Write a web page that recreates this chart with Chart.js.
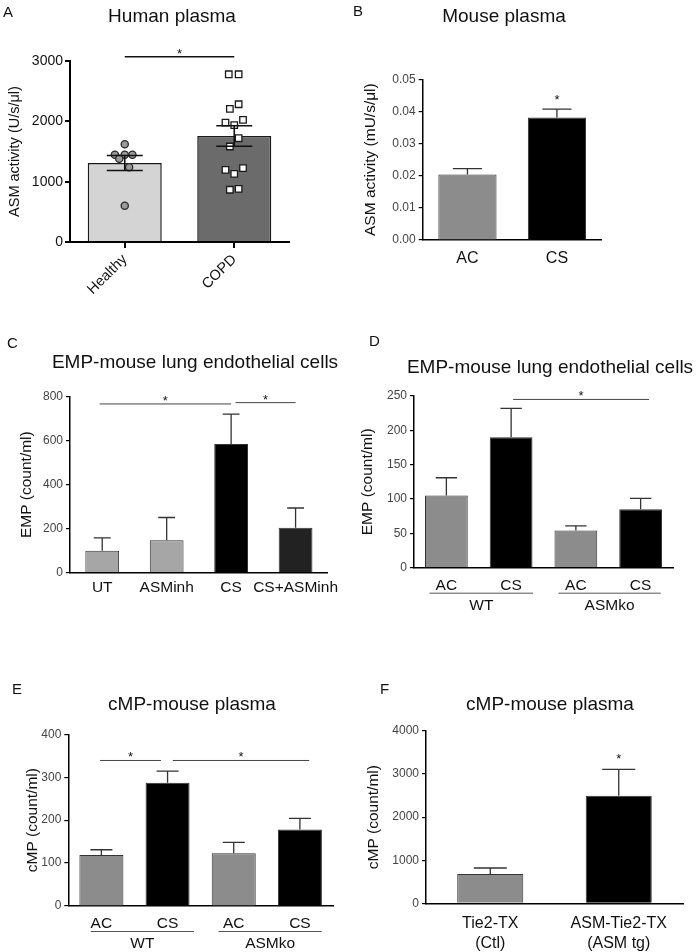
<!DOCTYPE html>
<html>
<head>
<meta charset="utf-8">
<script src="https://cdn.jsdelivr.net/npm/chart.js@4.4.1/dist/chart.umd.min.js"></script>
<style>
  body { margin: 0; background: #fff; width: 697px; height: 952px; position: relative; overflow: hidden;
         font-family: "Liberation Sans", Arial, sans-serif; }
  canvas { position: absolute; }
  .lbl { position: absolute; font-size: 15px; line-height: 15px; color: #111; }
  .ttl { position: absolute; font-size: 19px; line-height: 19px; color: #111; transform: translateX(-50%); white-space: nowrap; }
</style>
</head>
<body>
<canvas id="cA" width="340" height="300" style="left:0;top:0"></canvas>
<canvas id="cB" width="357" height="290" style="left:340px;top:0"></canvas>
<canvas id="cC" width="345" height="330" style="left:0;top:300px"></canvas>
<canvas id="cD" width="357" height="330" style="left:340px;top:300px"></canvas>
<canvas id="cE" width="345" height="322" style="left:0;top:630px"></canvas>
<canvas id="cF" width="357" height="322" style="left:340px;top:630px"></canvas>

<div class="lbl" style="left:3px;top:4px">A</div>
<div class="ttl" style="left:172px;top:6px">Human plasma</div>
<div class="lbl" style="left:353px;top:3px">B</div>
<div class="ttl" style="left:504px;top:6px">Mouse plasma</div>
<div class="lbl" style="left:7px;top:335px">C</div>
<div class="ttl" style="left:195px;top:352px">EMP-mouse lung endothelial cells</div>
<div class="lbl" style="left:369px;top:333px">D</div>
<div class="ttl" style="left:550px;top:357px">EMP-mouse lung endothelial cells</div>
<div class="lbl" style="left:12px;top:681px">E</div>
<div class="ttl" style="left:192px;top:694px">cMP-mouse plasma</div>
<div class="lbl" style="left:380px;top:681px">F</div>
<div class="ttl" style="left:550px;top:694px">cMP-mouse plasma</div>

<script>
// ---- data ----
// A: human plasma ASM activity (U/s/ul), mean +- SEM and single values
const aLabels = ['Healthy', 'COPD'];
const aMeans = [1310, 1757];
const aSem = [124, 170];
const healthyVals = [1620, 1447, 1447, 1447, 1380, 1238, 601];
const healthyJitter = [0, -0.09, 0, 0.07, -0.05, 0.04, 0];
const copdVals = [2780, 2780, 2283, 2206, 1980, 2024, 1936, 1720, 1583, 1197, 1224, 1130, 866, 882];
const copdJitter = [-0.05, 0.04, 0.04, -0.04, -0.08, 0.08, 0, 0.04, -0.04, -0.08, 0.08, 0, -0.04, 0.04];
const aSig = [[0, 1, 3070]];

// B: mouse plasma ASM activity (mU/s/ul)
const bLabels = ['AC', 'CS'];
const bMeans = [0.0204, 0.0381];
const bSem = [0.0018, 0.0026];
const bStars = [[1, 0.0446]];

// C: EMP from mouse lung endothelial cells (count/ml)
const cLabels = ['UT', 'ASMinh', 'CS', 'CS+ASMinh'];
const cMeans = [100, 148, 585, 204];
const cSem = [58, 103, 136, 90];
const cSig = [[-0.04, 2, 767], [2.07, 3, 773]];

// D: EMP, WT vs ASMko (count/ml)
const dLabels = ['AC', 'CS', 'AC', 'CS'];
const dMeans = [105, 190, 54, 85];
const dSem = [26, 42, 7, 16];
const dSig = [[1.03, 3.13, 245]];
const dGroups = [[-0.26, 1.34, 'WT'], [1.73, 3.31, 'ASMko']];

// E: cMP mouse plasma, WT vs ASMko (count/ml)
const eLabels = ['AC', 'CS', 'AC', 'CS'];
const eMeans = [119, 287, 123, 178];
const eSem = [12, 27, 25, 26];
const eSig = [[-0.02, 0.9, 339], [1.08, 3.14, 339]];
const eGroups = [[-0.16, 1.4, 'WT'], [1.77, 3.33, 'ASMko']];

// F: cMP mouse plasma, Tie2-TX vs ASM-Tie2-TX (count/ml)
const fLabels = [['Tie2-TX', '(Ctl)'], ['ASM-Tie2-TX', '(ASM tg)']];
const fMeans = [681, 2499];
const fSem = [139, 611];
const fStars = [[1, 3420]];

const FONT = '"Liberation Sans", Arial, sans-serif';
Chart.defaults.font.family = FONT;
Chart.defaults.color = '#111';
Chart.defaults.animation = false;
Chart.defaults.plugins.legend.display = false;
Chart.defaults.plugins.tooltip.enabled = false;

// error bars, significance lines, stars and group underlines
const extras = {
  id: 'extras',
  afterDatasetsDraw(chart, args, o) {
    const ctx = chart.ctx, xs = chart.scales.x, ys = chart.scales.y;
    ctx.save();
    if (o.means) {
      const bars = chart.getDatasetMeta(0).data;
      ctx.strokeStyle = o.errColor;
      ctx.lineWidth = o.errWidth;
      o.means.forEach((m, i) => {
        const x = xs.getPixelForValue(i);
        const half = o.capHalf || bars[i].width / 4;
        const top = ys.getPixelForValue(m + o.sem[i]);
        const bot = ys.getPixelForValue(o.both ? m - o.sem[i] : m);
        ctx.beginPath();
        ctx.moveTo(x, bot); ctx.lineTo(x, top);
        ctx.moveTo(x - half, top); ctx.lineTo(x + half, top);
        if (o.both) { ctx.moveTo(x - half, bot); ctx.lineTo(x + half, bot); }
        ctx.stroke();
      });
    }
    ctx.font = '13px ' + FONT;
    ctx.textAlign = 'center';
    ctx.textBaseline = 'alphabetic';
    ctx.fillStyle = '#111';
    (o.sig || []).forEach(s => {
      const x1 = xs.getPixelForValue(s[0]), x2 = xs.getPixelForValue(s[1]);
      const y = ys.getPixelForValue(s[2]);
      ctx.strokeStyle = o.sigColor;
      ctx.lineWidth = o.sigWidth;
      ctx.beginPath(); ctx.moveTo(x1, y); ctx.lineTo(x2, y); ctx.stroke();
      ctx.fillText('*', (x1 + x2) / 2, y + 1);
    });
    (o.stars || []).forEach(s => {
      ctx.fillText('*', xs.getPixelForValue(s[0]), ys.getPixelForValue(s[1]) + 7);
    });
    if (o.groups) {
      ctx.font = '15.5px ' + FONT;
      ctx.textBaseline = 'middle';
      o.groups.forEach(g => {
        const x1 = xs.getPixelForValue(g[0]), x2 = xs.getPixelForValue(g[1]);
        const y = xs.top + o.groupLine;
        ctx.strokeStyle = '#555';
        ctx.lineWidth = 1;
        ctx.beginPath(); ctx.moveTo(x1, y); ctx.lineTo(x2, y); ctx.stroke();
        ctx.fillText(g[2], (x1 + x2) / 2, xs.top + o.groupText);
      });
    }
    ctx.restore();
  }
};

// common builder for the grey/black bar panels (B-F)
function barPanel(id, p) {
  return new Chart(document.getElementById(id), {
    type: 'bar',
    data: {
      labels: p.labels,
      datasets: [{
        data: p.means,
        backgroundColor: p.colors,
        borderColor: '#333',
        borderWidth: 1,
        barPercentage: p.barPct,
        categoryPercentage: 1
      }]
    },
    options: {
      responsive: false,
      layout: { padding: { left: p.padL, top: p.padT, right: p.padR, bottom: 0 } },
      scales: {
        x: {
          afterFit: s => { s.height = p.xH; },
          grid: { display: false, drawTicks: false },
          border: { display: true, color: '#000', width: 1.5 },
          ticks: { font: { size: p.xFont || 15.5 }, color: '#111', padding: p.xPad, maxRotation: 0, autoSkip: false }
        },
        y: {
          min: 0, max: p.max,
          afterFit: s => { s.width = p.yW; },
          grid: { drawOnChartArea: false, tickLength: 4, color: '#000', lineWidth: 1.2 },
          border: { color: '#000', width: 1.5 },
          ticks: { stepSize: p.step, font: { size: 12 }, color: '#444', padding: 3, callback: p.fmt || (v => v) },
          title: { display: true, text: p.yTitle, font: { size: 15.5 }, color: '#111', padding: 0 }
        }
      },
      plugins: {
        extras: {
          means: p.means, sem: p.sem, errColor: '#333', errWidth: 1.3,
          sig: p.sig, sigColor: '#444', sigWidth: 1, stars: p.stars,
          groups: p.groups, groupLine: 25.5, groupText: 38
        }
      }
    },
    plugins: [extras]
  });
}

// A: bars with single values on top (points drawn above the bars)
new Chart(document.getElementById('cA'), {
  type: 'bar',
  data: {
    labels: aLabels,
    datasets: [{
      data: aMeans,
      backgroundColor: ['#d4d4d4', '#6b6b6b'],
      borderColor: '#1a1a1a',
      borderWidth: 1.5,
      barPercentage: 0.676,
      categoryPercentage: 1,
      grouped: false,
      order: 3
    }, {
      type: 'scatter',
      xAxisID: 'xs',
      order: 1,
      data: healthyVals.map((v, i) => ({ x: 0 + healthyJitter[i], y: v })),
      pointStyle: 'circle',
      pointRadius: 3.6,
      backgroundColor: '#9a9a9a',
      borderColor: '#2a2a2a',
      borderWidth: 1.3
    }, {
      type: 'scatter',
      xAxisID: 'xs',
      order: 1,
      data: copdVals.map((v, i) => ({ x: 1 + copdJitter[i], y: v })),
      pointStyle: 'rect',
      pointRadius: 4.6,
      backgroundColor: '#fff',
      borderColor: '#1a1a1a',
      borderWidth: 1.3
    }]
  },
  options: {
    responsive: false,
    layout: { padding: { left: 6.3, top: 61, right: 51, bottom: 0 } },
    scales: {
      x: {
        afterFit: s => { s.height = 58; },
        grid: { drawOnChartArea: false, drawTicks: true, tickLength: 6, offset: false, color: '#000', lineWidth: 2 },
        border: { color: '#000', width: 2 },
        ticks: { font: { size: 14.5 }, color: '#111', padding: 3, minRotation: 45, maxRotation: 45 }
      },
      xs: { type: 'linear', display: false, offset: false, grid: { offset: false }, min: -0.5, max: 1.5 },
      y: {
        min: 0, max: 3000,
        afterFit: s => { s.width = 63.7; },
        grid: { drawOnChartArea: false, tickLength: 5, color: '#000', lineWidth: 2 },
        border: { color: '#000', width: 2 },
        ticks: { stepSize: 1000, font: { size: 14 }, color: '#111', padding: 2, callback: v => v },
        title: { display: true, text: 'ASM activity (U/s/μl)', font: { size: 14.5 }, color: '#111', padding: 0 }
      }
    },
    plugins: {
      extras: {
        means: aMeans, sem: aSem, both: true, capHalf: 18, errColor: '#111', errWidth: 1.6,
        sig: aSig, sigColor: '#111', sigWidth: 1.5
      }
    }
  },
  plugins: [extras]
});

barPanel('cB', {
  labels: bLabels, means: bMeans, sem: bSem, stars: bStars,
  colors: ['#8c8c8c', '#000'], barPct: 0.65,
  max: 0.05, step: 0.01, fmt: v => v.toFixed(2),
  yTitle: 'ASM activity (mU/s/μl)', xFont: 16,
  padL: 21.7, yW: 61, padT: 79.3, padR: 95.3, xH: 50, xPad: 9
});

barPanel('cC', {
  labels: cLabels, means: cMeans, sem: cSem, sig: cSig,
  colors: ['#a6a6a6', '#a6a6a6', '#000', '#222'], barPct: 0.524,
  max: 800, step: 200, yTitle: 'EMP (count/ml)',
  padL: 17.1, yW: 52.9, padT: 96.7, padR: 8, xH: 57.3, xPad: 6
});

barPanel('cD', {
  labels: dLabels, means: dMeans, sem: dSem, sig: dSig, groups: dGroups,
  colors: ['#8c8c8c', '#000', '#8c8c8c', '#000'], barPct: 0.66,
  max: 250, step: 50, yTitle: 'EMP (count/ml)',
  padL: 18.7, yW: 55.3, padT: 96, padR: 24, xH: 62.3, xPad: 9
});

barPanel('cE', {
  labels: eLabels, means: eMeans, sem: eSem, sig: eSig, groups: eGroups,
  colors: ['#8c8c8c', '#000', '#8c8c8c', '#000'], barPct: 0.665,
  max: 400, step: 100, yTitle: 'cMP (count/ml)',
  padL: 23.4, yW: 44.9, padT: 104.3, padR: 12, xH: 46, xPad: 8
});

barPanel('cF', {
  labels: fLabels, means: fMeans, sem: fSem, stars: fStars,
  colors: ['#8c8c8c', '#000'], barPct: 0.514,
  max: 4000, step: 1000, yTitle: 'cMP (count/ml)', xFont: 16,
  padL: 24.4, yW: 61.6, padT: 101, padR: 14, xH: 48.7, xPad: 11
});
</script>
</body>
</html>
